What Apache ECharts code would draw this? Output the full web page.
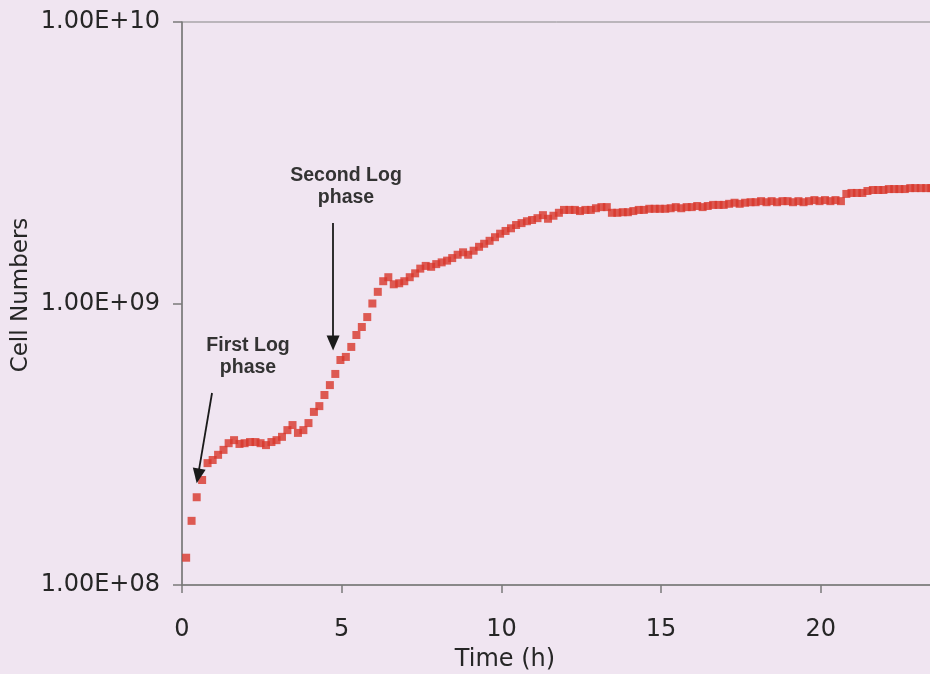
<!DOCTYPE html>
<html>
<head>
<meta charset="utf-8">
<script src="https://cdn.jsdelivr.net/npm/echarts@6/dist/echarts.min.js"></script>
<style>html,body{margin:0;padding:0;background:#f0e5f1;}#c{width:930px;height:674px;}</style>
</head>
<body>
<div id="c"></div>
<script>
// Time (h)
const times = [0.13,0.30,0.46,0.63,0.80,0.96,1.13,1.30,1.46,1.63,1.80,1.96,2.13,2.30,2.46,2.63,2.80,2.96,3.13,3.30,3.46,3.63,3.80,3.96,4.13,4.30,4.46,4.63,4.80,4.96,
5.13,5.30,5.46,5.63,5.80,5.96,6.13,6.30,6.46,6.63,6.80,6.96,7.13,7.30,7.46,7.63,7.80,7.96,8.13,8.30,8.46,8.63,8.80,8.96,9.13,9.30,9.46,9.63,9.80,9.96,
10.13,10.30,10.46,10.63,10.80,10.96,11.13,11.30,11.46,11.63,11.80,11.96,12.13,12.30,12.46,12.63,12.80,12.96,13.13,13.30,13.46,13.63,13.80,13.96,14.13,14.30,14.46,14.63,14.80,14.96,
15.13,15.30,15.46,15.63,15.80,15.96,16.13,16.30,16.46,16.63,16.80,16.96,17.13,17.30,17.46,17.63,17.80,17.96,18.13,18.30,18.46,18.63,18.80,18.96,19.13,19.30,19.46,19.63,19.80,19.96,
20.13,20.30,20.46,20.63,20.80,20.96,21.13,21.30,21.46,21.63,21.80,21.96,22.13,22.30,22.46,22.63,22.80,22.96,23.13,23.30,23.46,23.63];
// Cell numbers
const cells = [1.25e8,1.69e8,2.05e8,2.36e8,2.71e8,2.78e8,2.90e8,3.02e8,3.19e8,3.27e8,3.17e8,3.19e8,3.22e8,3.22e8,3.19e8,3.14e8,3.22e8,3.27e8,3.36e8,3.55e8,3.70e8,3.47e8,3.55e8,3.76e8,4.12e8,4.32e8,4.73e8,5.13e8,5.62e8,6.30e8,
6.46e8,7.01e8,7.73e8,8.25e8,8.95e8,1.00e9,1.10e9,1.20e9,1.24e9,1.17e9,1.18e9,1.20e9,1.24e9,1.28e9,1.33e9,1.36e9,1.35e9,1.38e9,1.40e9,1.42e9,1.45e9,1.49e9,1.52e9,1.49e9,1.54e9,1.59e9,1.63e9,1.67e9,1.72e9,1.77e9,
1.81e9,1.85e9,1.90e9,1.93e9,1.96e9,1.98e9,2.01e9,2.06e9,2.00e9,2.05e9,2.10e9,2.15e9,2.15e9,2.15e9,2.13e9,2.15e9,2.15e9,2.18e9,2.20e9,2.20e9,2.10e9,2.10e9,2.11e9,2.11e9,2.13e9,2.15e9,2.15e9,2.17e9,2.17e9,2.17e9,
2.17e9,2.18e9,2.20e9,2.18e9,2.20e9,2.20e9,2.22e9,2.20e9,2.22e9,2.24e9,2.24e9,2.24e9,2.26e9,2.28e9,2.26e9,2.28e9,2.29e9,2.29e9,2.31e9,2.29e9,2.31e9,2.29e9,2.31e9,2.31e9,2.29e9,2.31e9,2.29e9,2.31e9,2.33e9,2.31e9,
2.33e9,2.31e9,2.33e9,2.31e9,2.45e9,2.47e9,2.47e9,2.47e9,2.51e9,2.53e9,2.53e9,2.53e9,2.55e9,2.55e9,2.55e9,2.55e9,2.57e9,2.57e9,2.57e9,2.57e9,2.57e9,2.57e9];
const xTicks = [0, 5, 10, 15, 20, 25];
const yTicks = [1e8, 1e9, 1e10];
const yTickLabels = ['1.00E+08', '1.00E+09', '1.00E+10'];
const xTitle = 'Time (h)';
const yTitle = 'Cell Numbers';
// annotation arrows in data units: [fromTime, fromCells, toTime, toCells]
const arrowFirst = [0.94, 4.81e8, 0.50, 2.44e8];
const arrowSecond = [4.73, 1.93e9, 4.73, 7.24e8];
const noteFirst = ['First Log', 'phase'];
const noteSecond = ['Second Log', 'phase'];

const FONT = 'DejaVu Sans';
const NOTEFONT = 'Liberation Sans';
const TXT = '#262626';
const chart = echarts.init(document.getElementById('c'), null, {renderer: 'canvas'});
const data = times.map((t, i) => [t, cells[i]]);
function arrowLine(a) {
  return [{coord: [a[0], a[1]], symbol: 'none'}, {coord: [a[2], a[3]], symbol: 'triangle', symbolSize: [13, 15]}];
}
chart.setOption({
  backgroundColor: '#f0e5f1',
  animation: false,
  grid: {left: 182, top: 22, right: -50.5, bottom: 89, containLabel: false, outerBoundsMode: 'none',
    show: true, borderColor: '#858585', borderWidth: 1, backgroundColor: 'transparent'},
  xAxis: {
    type: 'value', min: xTicks[0], max: xTicks[xTicks.length - 1], interval: 5,
    axisLine: {show: true, onZero: false, lineStyle: {color: '#7a7a7a', width: 1.5}},
    axisTick: {show: true, inside: false, length: 8, lineStyle: {color: '#7a7a7a', width: 1.5}},
    axisLabel: {margin: 33, fontFamily: FONT, fontSize: 24, color: TXT,
      formatter: v => xTicks.indexOf(v) >= 0 ? String(v) : ''},
    splitLine: {show: false}
  },
  yAxis: {
    type: 'log', logBase: 10, min: yTicks[0], max: yTicks[yTicks.length - 1],
    axisLine: {show: true, lineStyle: {color: '#7a7a7a', width: 1.5}},
    axisTick: {show: true, inside: false, length: 9, lineStyle: {color: '#7a7a7a', width: 1.5}},
    axisLabel: {margin: 22, fontFamily: FONT, fontSize: 24, color: TXT,
      formatter: v => { const i = yTicks.findIndex(t => Math.abs(Math.log10(t) - Math.log10(v)) < 1e-6); return i >= 0 ? yTickLabels[i] : ''; }},
    splitLine: {show: false},
    minorTick: {show: false}
  },
  series: [{
    type: 'scatter', data: data, symbol: 'rect', symbolSize: 8,
    itemStyle: {color: '#d8362b'},
    markLine: {
      silent: true, animation: false,
      lineStyle: {color: '#1a1a1a', width: 1.8, type: 'solid'},
      label: {show: false},
      data: [arrowLine(arrowFirst), arrowLine(arrowSecond)]
    }
  }],
  graphic: [
    {type: 'text', x: 505, y: 660, style: {text: xTitle, font: '24px "' + FONT + '"', fill: TXT, align: 'center', verticalAlign: 'middle'}},
    {type: 'text', x: 21, y: 295, rotation: Math.PI / 2, style: {text: yTitle, font: '23px "' + FONT + '"', fill: TXT, align: 'center', verticalAlign: 'middle'}},
    {type: 'text', x: 346, y: 187, style: {text: noteSecond.join('\n'), font: 'bold 19.5px "' + NOTEFONT + '"', fill: '#333333', align: 'center', verticalAlign: 'middle', lineHeight: 22}},
    {type: 'text', x: 248, y: 357, style: {text: noteFirst.join('\n'), font: 'bold 19.5px "' + NOTEFONT + '"', fill: '#333333', align: 'center', verticalAlign: 'middle', lineHeight: 22}}
  ]
});
</script>
</body>
</html>
